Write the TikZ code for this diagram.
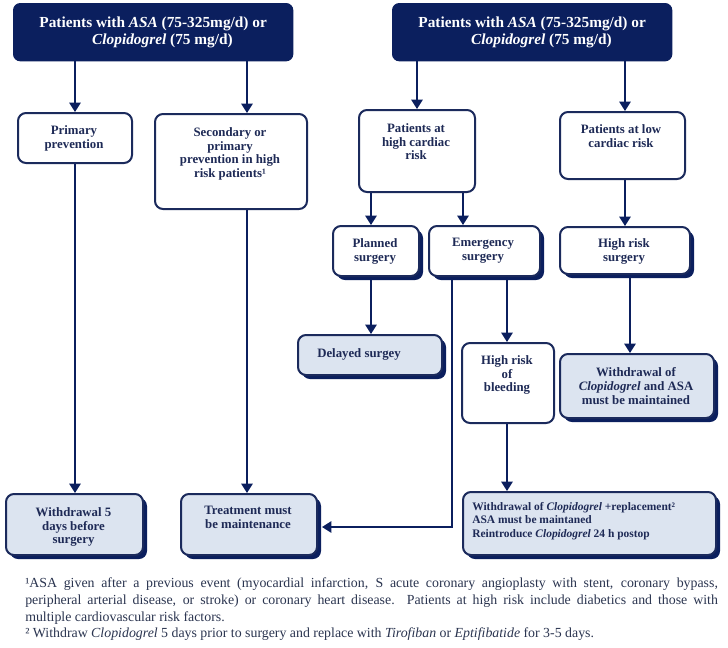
\documentclass[tikz,border=0pt]{standalone}
\usepackage{fontspec}
\setmainfont{Liberation Serif}
\usetikzlibrary{arrows.meta,shadows,calc}
\definecolor{navy}{HTML}{0B1F5E}
\definecolor{boxline}{HTML}{1B2A5C}
\definecolor{lightfill}{HTML}{DCE4F0}
\definecolor{txtnavy}{HTML}{1E2A56}
\definecolor{foot}{HTML}{2B3550}
\newcommand\mybox[7]{\node[#6, anchor=north west, minimum width={(#4-#2)*0.75pt}, minimum height={(#5-#3)*0.75pt}, inner sep=0pt] (#1) at (#2,#3) {#7};}
\begin{document}
\begin{tikzpicture}[x=0.75pt,y=-0.75pt,
  hdr/.style={draw=navy, fill=navy, rounded corners=5pt, line width=1pt, text=white, font=\bfseries\fontsize{11.5}{12.75}\selectfont, align=center},
  wbox/.style={draw=boxline, fill=white, rounded corners=6pt, line width=1.5pt},
  lbox/.style={draw=boxline, fill=lightfill, rounded corners=6pt, line width=1.5pt},
  shad/.style={drop shadow={shadow xshift=3pt, shadow yshift=-3pt, opacity=1, fill=navy}},
  btxt/.style={text=txtnavy, font=\bfseries\fontsize{9.6}{10.4}\selectfont, align=center, inner sep=0pt, anchor=north},
  stxt/.style={text=txtnavy, font=\bfseries\fontsize{8.6}{10}\selectfont, align=left, inner sep=0pt, anchor=north west},
  ftxt/.style={text=foot, font=\fontsize{10.4}{12}\selectfont, inner sep=0pt, anchor=base west},
  arr/.style={draw=navy, line width=1.3pt, -{Triangle[length=7pt,width=8.5pt]}},
  ln/.style={draw=navy, line width=1.3pt}]
\useasboundingbox (0,0) rectangle (728,647);
\fill[white] (0,0) rectangle (728,647);

% x/y reference coordinates
\coordinate (x247) at (247,0);
\coordinate (x625) at (625,0);
\coordinate (x371) at (371,0);
\coordinate (x463) at (463,0);
\coordinate (x452) at (452,0);
\coordinate (x507) at (507,0);
\coordinate (x630) at (630,0);
\coordinate (x75) at (75,0);
\coordinate (y527) at (0,527);

% headers
\mybox{hL}{13}{3}{292}{60}{hdr}{Patients with \textit{ASA} (75-325mg/d) or\\\hspace*{14pt}\textit{Clopidogrel} (75 mg/d)}
\mybox{hR}{392}{3}{671}{60}{hdr}{Patients with \textit{ASA} (75-325mg/d) or\\\hspace*{14pt}\textit{Clopidogrel} (75 mg/d)}

% level 2
\mybox{pp}{17}{112}{131}{162}{wbox}{}
\mybox{sec}{154}{113}{306}{208}{wbox}{}
\mybox{hc}{358}{109}{474}{191}{wbox}{}
\mybox{lc}{559}{111}{684}{178}{wbox}{}

% level 3
\mybox{pl}{332}{225}{418}{275}{wbox,shad}{}
\mybox{em}{428}{225}{539}{275}{wbox,shad}{}
\mybox{hrs}{559}{226}{689}{273}{wbox,shad}{}

% level 4
\mybox{del}{297}{334}{441}{374}{lbox,shad}{}
\mybox{bl}{461}{342}{553}{422}{wbox}{}
\mybox{wa}{559}{353}{713}{417}{lbox,shad}{}

% bottom
\mybox{w5}{5}{493}{142}{554}{lbox,shad}{}
\mybox{tr}{180}{493}{316}{554}{lbox,shad}{}
\mybox{br}{462}{491}{715}{554}{lbox,shad}{}

% texts
\node[btxt] (tpp) at (74,125) {Primary\\prevention};
\node[btxt] (tsec) at (230,127) {Secondary or\\primary\\prevention in high\\risk patients¹};
\node[btxt] (thc) at (416,123) {Patients at\\high cardiac\\risk};
\node[btxt] (tlc) at (621,124) {Patients at low\\cardiac risk};
\node[btxt] (tpl) at (375,238) {Planned\\surgery};
\node[btxt] (tem) at (483,238) {Emergency\\surgery};
\node[btxt] (thrs) at (624,238) {High risk\\surgery};
\node[btxt, anchor=north west] (tdel) at (317,348) {Delayed surgey};
\node[btxt] (tbl) at (507,355) {High risk\\of\\bleeding};
\node[btxt] (twa) at (636,367) {Withdrawal of\\\textit{Clopidogrel} and ASA\\must be maintained};
\node[btxt] (tw5) at (73.5,507) {Withdrawal 5\\days before\\surgery};
\node[btxt] (ttr) at (248,506) {Treatment must\\be maintenance};
\node[stxt] (tbr) at (472,502) {Withdrawal of \textit{Clopidogrel} +replacement²\\ASA must be maintaned\\Reintroduce \textit{Clopidogrel} 24 h postop};

% connectors
\draw[arr] (pp.north |- hL.south) -- (pp.north);
\draw[arr] (hL.south -| x247) -- (sec.north -| x247);
\draw[arr] (hc.north |- hR.south) -- (hc.north);
\draw[arr] (hR.south -| x625) -- (lc.north -| x625);
\draw[arr] (hc.south -| x371) -- (pl.north -| x371);
\draw[arr] (hc.south -| x463) -- (em.north -| x463);
\draw[arr] (lc.south -| x625) -- (hrs.north -| x625);
\draw[arr] (pl.south -| x371) -- (del.north -| x371);
\draw[arr] (em.south -| x507) -- (bl.north -| x507);
\draw[arr] (hrs.south -| x630) -- (wa.north -| x630);
\draw[arr] (pp.south -| x75) -- (w5.north -| x75);
\draw[arr] (sec.south -| x247) -- (tr.north -| x247);
\draw[arr] (bl.south -| x507) -- (br.north -| x507);
\draw[arr] (em.south -| x452) |- ([xshift=3pt]tr.east |- y527);

% footnotes
\node[ftxt] (f1) at (25,587) {\makebox[519.5pt][s]{¹ASA given after a previous event (myocardial infarction, S acute coronary angioplasty with stent, coronary bypass,}};
\node[ftxt] (f2) at (25,604) {\makebox[519.5pt][s]{peripheral arterial disease, or stroke) or coronary heart disease. Patients at high risk include diabetics and those with}};
\node[ftxt] (f3) at (25,621) {multiple cardiovascular risk factors.};
\node[ftxt] (f4) at (25,637) {² Withdraw \textit{Clopidogrel} 5 days prior to surgery and replace with \textit{Tirofiban} or \textit{Eptifibatide} for 3-5 days.};
\end{tikzpicture}
\end{document}
